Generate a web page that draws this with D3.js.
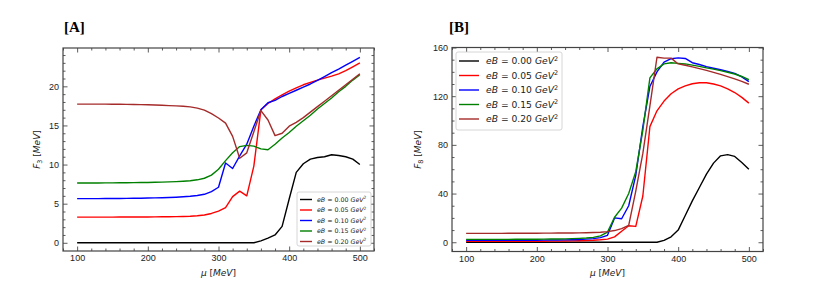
<!DOCTYPE html>
<html>
<head>
<meta charset="utf-8">
<script src="https://cdn.jsdelivr.net/npm/d3@7"></script>
<style>
  body { margin: 0; background: #fff; }
  svg { display: block; font-family: "DejaVu Sans", sans-serif; }
</style>
</head>
<body>
<svg id="chart" width="817" height="299"></svg>
<script>
// chemical potential grid (MeV)
const mu = d3.range(100, 501, 10);

const fieldLabels = ['0.00', '0.05', '0.10', '0.15', '0.20'];
const colors = ['#000000', '#ff0000', '#0000ff', '#008000', '#a52a2a'];

// panel A : F3
const f3_00 = [0,0,0,0,0,0,0,0,0,0,0,0,0,0,0,0,0,0,0,0,0,0,0,0,0,0,
  0.25,0.6,1.0,2.1,5.6,9.0,10.1,10.7,10.9,11.0,11.25,11.15,11.0,10.7,10.0];
const f3_05 = [3.28,3.28,3.28,3.28,3.28,3.28,3.29,3.29,3.29,3.30,3.30,3.31,3.32,3.33,3.34,3.36,
  3.39,3.45,3.55,3.75,4.05,4.5,5.9,6.6,6.0,9.8,17.0,17.8,18.4,18.9,19.4,19.8,20.2,20.5,20.8,21.05,21.3,21.6,22.0,22.5,23.0];
const f3_10 = [5.65,5.65,5.65,5.65,5.66,5.66,5.67,5.68,5.69,5.70,5.72,5.74,5.76,5.79,5.83,5.88,
  5.95,6.05,6.2,6.55,7.1,10.2,9.5,11.1,12.6,14.9,17.0,17.9,18.2,18.7,19.1,19.5,19.9,20.3,20.75,21.25,21.75,22.2,22.7,23.2,23.7];
const f3_15 = [7.65,7.65,7.65,7.65,7.66,7.66,7.67,7.68,7.69,7.70,7.71,7.73,7.75,7.78,7.82,7.87,
  7.93,8.05,8.25,8.65,9.4,10.5,11.5,12.3,12.45,12.35,12.0,11.9,12.6,13.4,14.1,14.9,15.6,16.3,17.1,17.8,18.5,19.3,20.0,20.8,21.5];
const f3_20 = [17.73,17.73,17.73,17.72,17.72,17.71,17.70,17.69,17.68,17.66,17.64,17.61,17.58,17.54,17.50,17.45,
  17.38,17.22,16.95,16.5,15.95,15.3,13.6,10.8,11.5,14.2,16.9,15.7,13.7,14.0,14.9,15.4,16.0,16.7,17.4,18.1,18.8,19.5,20.2,20.9,21.6];

// panel B : F8
const f8_00 = [0,0,0,0,0,0,0,0,0,0,0,0,0,0,0,0,0,0,0,0,0,0,0,0,0,0,0,0,
  1.5,4.5,10,22,34,45,56,65,71,72,70.5,65.5,60];
const f8_05 = [0.8,0.8,0.8,0.8,0.8,0.8,0.8,0.8,0.8,0.82,0.84,0.86,0.9,0.95,1.0,1.1,
  1.2,1.35,1.6,2.0,2.6,4.4,9.0,13.5,13.0,38,95,108,116,122,126,128.5,130.2,131,131,130,128.5,126,123,119,114.3];
const f8_10 = [1.6,1.6,1.6,1.6,1.6,1.6,1.6,1.62,1.64,1.66,1.7,1.74,1.8,1.88,1.98,2.1,
  2.3,2.55,3.0,3.8,5.7,20,19.3,30,55,95,128,140,148,150.8,151.5,151,147.5,146,144.3,143,141.7,140.3,138.7,135.8,132];
const f8_15 = [2.4,2.4,2.4,2.4,2.4,2.4,2.4,2.42,2.44,2.46,2.5,2.55,2.62,2.7,2.8,2.95,
  3.15,3.45,4.0,5.2,8.3,20.5,28,40,58,92,135,142.5,146.5,147.5,147,146.5,145.5,144.5,143.3,142.2,141,139.7,138.2,136.2,133.5];
const f8_20 = [7.3,7.3,7.3,7.3,7.3,7.32,7.34,7.36,7.38,7.4,7.43,7.46,7.5,7.55,7.6,7.66,
  7.73,7.82,7.95,8.2,8.7,9.6,11.2,13.9,42,73,112,152,151.3,151.3,146.5,145.4,144.1,142.7,141.2,139.6,137.9,136.1,134.2,132.1,129.8];

const xTicks = [100, 200, 300, 400, 500];
const yTicksA = [0, 5, 10, 15, 20];
const yTicksB = [0, 40, 80, 120, 160];

const svg = d3.select('#chart');

function drawPanel(opt) {
  const { left, right, top, bottom } = opt.box;
  const x = d3.scaleLinear().domain([80, 520]).range([left, right]);
  const y = d3.scaleLinear().domain(opt.yDomain).range([bottom, top]);
  const g = svg.append('g');

  const xMinor = d3.range(80, 521, 20).filter(v => !xTicks.includes(v));
  const yMinor = d3.range(0, opt.yDomain[1] + 0.01, opt.yMinorStep)
    .filter(v => !opt.yTicks.includes(v) && v >= opt.yDomain[0]);

  const addAxis = (axisFn, scale, vals, size, transform, labels) => {
    const a = g.append('g')
      .attr('transform', transform)
      .call(axisFn(scale).tickValues(vals).tickSize(-size).tickPadding(4)
        .tickFormat(labels ? d3.format('d') : ''));
    a.select('.domain').remove();
    a.selectAll('line').attr('stroke', '#333').attr('stroke-width', 0.8);
    a.selectAll('text').attr('font-size', 9).attr('fill', '#222');
    return a;
  };

  // major and minor ticks on every side, pointing inwards
  addAxis(d3.axisBottom, x, xTicks, 4.5, `translate(0,${bottom})`, true);
  addAxis(d3.axisBottom, x, xMinor, 2.5, `translate(0,${bottom})`, false);
  addAxis(d3.axisTop, x, xTicks, 4.5, `translate(0,${top})`, false);
  addAxis(d3.axisTop, x, xMinor, 2.5, `translate(0,${top})`, false);
  addAxis(d3.axisLeft, y, opt.yTicks, 4.5, `translate(${left},0)`, true);
  addAxis(d3.axisLeft, y, yMinor, 2.5, `translate(${left},0)`, false);
  addAxis(d3.axisRight, y, opt.yTicks, 4.5, `translate(${right},0)`, false);
  addAxis(d3.axisRight, y, yMinor, 2.5, `translate(${right},0)`, false);

  const line = d3.line().x((d, i) => x(mu[i])).y(d => y(d));
  g.append('defs').append('clipPath').attr('id', 'clip' + opt.name)
    .append('rect').attr('x', left).attr('y', top).attr('width', right - left).attr('height', bottom - top);
  const curves = g.append('g').attr('clip-path', `url(#clip${opt.name})`);
  opt.series.forEach((s, i) => {
    curves.append('path')
      .datum(s)
      .attr('fill', 'none')
      .attr('stroke', colors[i])
      .attr('stroke-width', 1.4)
      .attr('stroke-linejoin', 'round')
      .attr('d', line);
  });

  g.append('rect')
    .attr('x', left).attr('y', top)
    .attr('width', right - left).attr('height', bottom - top)
    .attr('fill', 'none').attr('stroke', '#444').attr('stroke-width', 1.2);

  // panel tag
  g.append('text')
    .attr('x', opt.tagX).attr('y', 32)
    .attr('font-family', '"Liberation Serif", serif')
    .attr('font-weight', 'bold').attr('font-size', 15)
    .text(opt.tag);

  // axis titles
  const xl = g.append('text')
    .attr('x', (left + right) / 2).attr('y', 276)
    .attr('text-anchor', 'middle').attr('font-size', 9).attr('fill', '#222');
  xl.append('tspan').attr('font-style', 'italic').text('μ');
  xl.append('tspan').text(' [');
  xl.append('tspan').attr('font-style', 'italic').text('MeV');
  xl.append('tspan').text(']');

  const yl = g.append('text')
    .attr('transform', `translate(${opt.yLabelX},${(top + bottom) / 2}) rotate(-90)`)
    .attr('text-anchor', 'middle').attr('font-size', 9).attr('fill', '#222');
  yl.append('tspan').attr('font-style', 'italic').text('F');
  yl.append('tspan').attr('font-size', 6.5).attr('dy', 2).text(opt.sub);
  yl.append('tspan').attr('dy', -2).text(' [');
  yl.append('tspan').attr('font-style', 'italic').text('MeV');
  yl.append('tspan').text(']');

  // legend
  const L = opt.legend;
  const lg = g.append('g');
  lg.append('rect')
    .attr('x', L.x).attr('y', L.y).attr('width', L.w).attr('height', L.h)
    .attr('rx', 2).attr('fill', '#fff').attr('stroke', '#ccc').attr('stroke-width', 0.8);
  fieldLabels.forEach((lab, i) => {
    const cy = L.y + L.pad + i * L.step;
    lg.append('line')
      .attr('x1', L.x + L.lineX0).attr('x2', L.x + L.lineX1)
      .attr('y1', cy).attr('y2', cy)
      .attr('stroke', colors[i]).attr('stroke-width', 1.4);
    const t = lg.append('text')
      .attr('x', L.x + L.textX).attr('y', cy + L.fs * 0.35)
      .attr('font-size', L.fs).attr('fill', '#222');
    t.append('tspan').attr('font-style', 'italic').text('eB');
    t.append('tspan').text(' = ' + lab + ' ');
    t.append('tspan').attr('font-style', 'italic').text('GeV');
    t.append('tspan').attr('font-size', L.fs * 0.7).attr('dy', -L.fs * 0.4).text('2');
  });
}

drawPanel({
  name: 'A', tag: '[A]', tagX: 64, sub: '3', yLabelX: 40,
  box: { left: 63, right: 374, top: 48, bottom: 251 },
  yDomain: [-1.05, 24.9], yTicks: yTicksA, yMinorStep: 1,
  series: [f3_00, f3_05, f3_10, f3_15, f3_20],
  legend: { x: 297, y: 192, w: 74, h: 54, pad: 7.5, step: 10.5, lineX0: 3, lineX1: 15, textX: 20, fs: 6.3 }
});

drawPanel({
  name: 'B', tag: '[B]', tagX: 449, sub: '8', yLabelX: 421,
  box: { left: 452, right: 763, top: 47.5, bottom: 251.5 },
  yDomain: [-7.6, 160], yTicks: yTicksB, yMinorStep: 10,
  series: [f8_00, f8_05, f8_10, f8_15, f8_20],
  legend: { x: 456, y: 52, w: 106, h: 78, pad: 9, step: 14.5, lineX0: 3, lineX1: 23, textX: 30, fs: 9.2 }
});
</script>
</body>
</html>
